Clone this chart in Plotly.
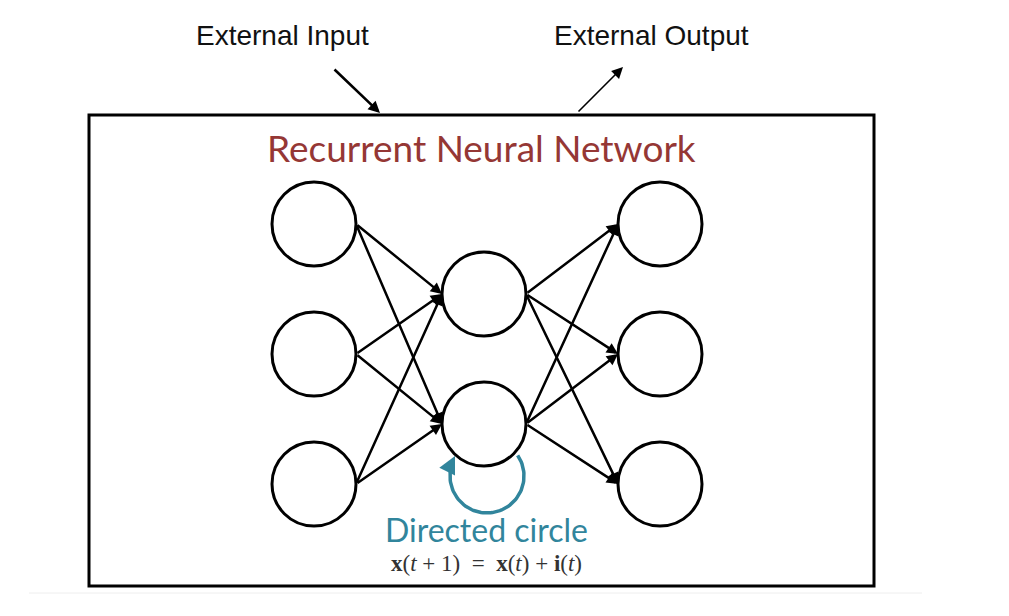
import numpy as np
import plotly.graph_objects as go

W, H = 1009, 616

# network layout (pixel space of the picture)
layer_x = [314, 484, 660]
layer_rows = [[224, 354, 484], [294, 424], [224, 354, 484]]
node_r = 42

box = [89, 115, 874, 586]

title_text = "Recurrent Neural Network"
input_label = "External Input"
output_label = "External Output"
loop_label = "Directed circle"
formula = "<b>x</b>(<i>t</i> + 1)  =  <b>x</b>(<i>t</i>) + <b>i</b>(<i>t</i>)"

RED = "#953735"
TEAL = "#31859C"

fig = go.Figure()
shapes = []
annotations = []

# faint page rule under the box
shapes.append(dict(type="line", x0=29, x1=922, y0=593, y1=593,
                   line=dict(color="#eeeeee", width=1)))

# outer box
shapes.append(dict(type="rect", x0=box[0], y0=box[1], x1=box[2], y1=box[3],
                   line=dict(color="black", width=3), fillcolor="rgba(0,0,0,0)"))

# self loop arc under the lower middle node
cx, cy, lr = 487, 476, 37
t = np.linspace(np.radians(-34), np.radians(200), 80)
fig.add_trace(go.Scatter(x=cx + lr * np.cos(t), y=cy + lr * np.sin(t),
                         mode="lines", line=dict(color=TEAL, width=3.5),
                         hoverinfo="skip", showlegend=False))

# connections between layers: right edge of source to left edge of target
for li in range(len(layer_x) - 1):
    for ys in layer_rows[li]:
        for yt in layer_rows[li + 1]:
            annotations.append(dict(
                x=layer_x[li + 1] - node_r, y=yt,
                ax=layer_x[li] + node_r, ay=ys,
                xref="x", yref="y", axref="x", ayref="y",
                showarrow=True, arrowhead=2, arrowsize=0.9, arrowwidth=2.5,
                arrowcolor="black", text=""))

# nodes
for lx, rows in zip(layer_x, layer_rows):
    for ny in rows:
        shapes.append(dict(type="circle", x0=lx - node_r, x1=lx + node_r,
                           y0=ny - node_r, y1=ny + node_r,
                           line=dict(color="black", width=3), fillcolor="white"))

# loop arrow head
annotations.append(dict(x=455, y=456, ax=450, ay=466, xref="x", yref="y",
                        axref="x", ayref="y", showarrow=True, arrowhead=2,
                        arrowsize=1.0, arrowwidth=3.5, arrowcolor=TEAL, text=""))

# external input / output arrows
annotations.append(dict(x=380, y=113, ax=333, ay=68, xref="x", yref="y",
                        axref="x", ayref="y", showarrow=True, arrowhead=2,
                        arrowsize=0.9, arrowwidth=2.6, arrowcolor="black", text=""))
annotations.append(dict(x=623, y=67, ax=577, ay=113, xref="x", yref="y",
                        axref="x", ayref="y", showarrow=True, arrowhead=2,
                        arrowsize=1.4, arrowwidth=1.6, arrowcolor="black", text=""))

def label(txt, x, y, size, color, family):
    annotations.append(dict(x=x, y=y, xref="x", yref="y", text=txt, showarrow=False,
                            font=dict(size=size, color=color, family=family),
                            xanchor="center", yanchor="middle"))

label(input_label, 282, 35, 28, "#111111", "Liberation Sans")
label(output_label, 651, 35, 28, "#111111", "Liberation Sans")
label(title_text, 481, 147, 37, RED, "Lato")
label(loop_label, 486, 529, 32, TEAL, "Lato")
label(formula, 486, 563, 23, "#333333", "Liberation Serif")

fig.update_layout(
    width=W, height=H, autosize=False,
    margin=dict(l=0, r=0, t=0, b=0),
    paper_bgcolor="white", plot_bgcolor="white",
    xaxis=dict(range=[0, W], visible=False, fixedrange=True),
    yaxis=dict(range=[H, 0], visible=False, fixedrange=True),
    shapes=shapes, annotations=annotations,
    showlegend=False,
)

fig.write_html("out.html", config={"displayModeBar": False},
               post_script="document.body.style.margin='0';")
